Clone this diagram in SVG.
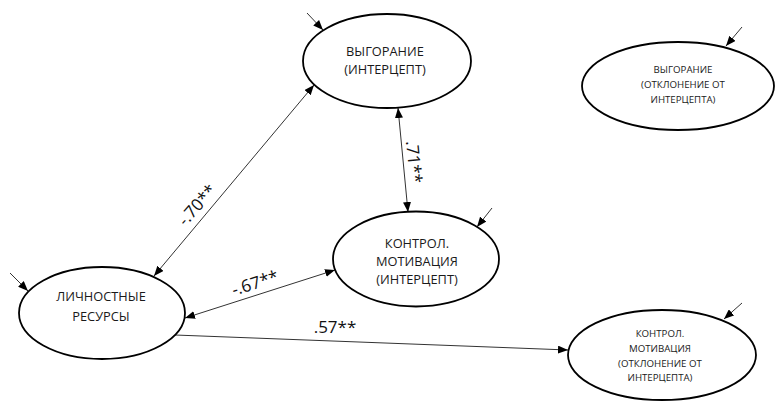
<svg xmlns="http://www.w3.org/2000/svg" width="776" height="401" viewBox="0 0 776 401">
<defs>
<marker id="arr" markerUnits="userSpaceOnUse" markerWidth="10" markerHeight="8" viewBox="0 0 10 8" refX="10" refY="4" orient="auto-start-reverse">
<path d="M0,0 L10,4 L0,8 z" fill="#000"/>
</marker>
<style>
.node ellipse{fill:#fff;stroke:#000;stroke-width:1.8}
.t{font-family:"Open Sans","Noto Sans",sans-serif;font-size:12.8px;fill:#1a1a1a;text-anchor:middle}
.s{font-family:"Open Sans","Noto Sans",sans-serif;font-size:9.7px;fill:#1a1a1a;text-anchor:middle}
.c{stroke:#333;stroke-width:1;fill:none}
.lbl{font-family:"Open Sans","Noto Sans",sans-serif;font-size:17px;fill:#111;text-anchor:middle}
</style>
</defs>
<rect width="776" height="401" fill="#fff"/>
<g id="connectors">
<line class="c" x1="154" y1="276" x2="314" y2="85" marker-start="url(#arr)" marker-end="url(#arr)"/>
<line class="c" x1="398" y1="108" x2="408" y2="212" marker-start="url(#arr)" marker-end="url(#arr)"/>
<line class="c" x1="185" y1="318" x2="335" y2="270" marker-start="url(#arr)" marker-end="url(#arr)"/>
<line class="c" x1="175" y1="335" x2="568" y2="350" marker-end="url(#arr)"/>
<line class="c" x1="307" y1="13" x2="323" y2="30" marker-end="url(#arr)"/>
<line class="c" x1="492" y1="208" x2="477" y2="227" marker-end="url(#arr)"/>
<line class="c" x1="10" y1="273" x2="28" y2="291" marker-end="url(#arr)"/>
<line class="c" x1="742" y1="27" x2="726" y2="46" marker-end="url(#arr)"/>
<line class="c" x1="742" y1="303" x2="724" y2="319" marker-end="url(#arr)"/>
<text class="lbl" transform="translate(197,205) rotate(-48.5)" dy="0.35em">-.70**</text>
<text class="lbl" transform="translate(255,283) rotate(-17.7)" dy="0.35em">-.67**</text>
<text class="lbl" transform="translate(414,162) rotate(84.5)" dy="0.35em">.71**</text>
<text class="lbl" x="335" y="327" dy="0.35em">.57**</text>
</g>
<g id="node-burnout-intercept" class="node">
<ellipse cx="387" cy="61" rx="84" ry="47"/>
<text class="t" x="385" y="56">ВЫГОРАНИЕ</text>
<text class="t" x="385" y="74">(ИНТЕРЦЕПТ)</text>
</g>
<g id="node-control-intercept" class="node">
<ellipse cx="416" cy="259" rx="83" ry="47.5"/>
<text class="t" x="417" y="248">КОНТРОЛ.</text>
<text class="t" x="417" y="266">МОТИВАЦИЯ</text>
<text class="t" x="417" y="284">(ИНТЕРЦЕПТ)</text>
</g>
<g id="node-resources" class="node">
<ellipse cx="102" cy="313" rx="83" ry="46"/>
<text class="t" x="101" y="301">ЛИЧНОСТНЫЕ</text>
<text class="t" x="101" y="321">РЕСУРСЫ</text>
</g>
<g id="node-burnout-slope" class="node">
<ellipse cx="678" cy="86" rx="96" ry="44"/>
<text class="s" x="683" y="73">ВЫГОРАНИЕ</text>
<text class="s" x="683" y="88">(ОТКЛОНЕНИЕ ОТ</text>
<text class="s" x="683" y="103">ИНТЕРЦЕПТА)</text>
</g>
<g id="node-control-slope" class="node">
<ellipse cx="662" cy="355" rx="94" ry="45"/>
<text class="s" x="660" y="337">КОНТРОЛ.</text>
<text class="s" x="660" y="352">МОТИВАЦИЯ</text>
<text class="s" x="660" y="367">(ОТКЛОНЕНИЕ ОТ</text>
<text class="s" x="660" y="381">ИНТЕРЦЕПТА)</text>
</g>
</svg>
